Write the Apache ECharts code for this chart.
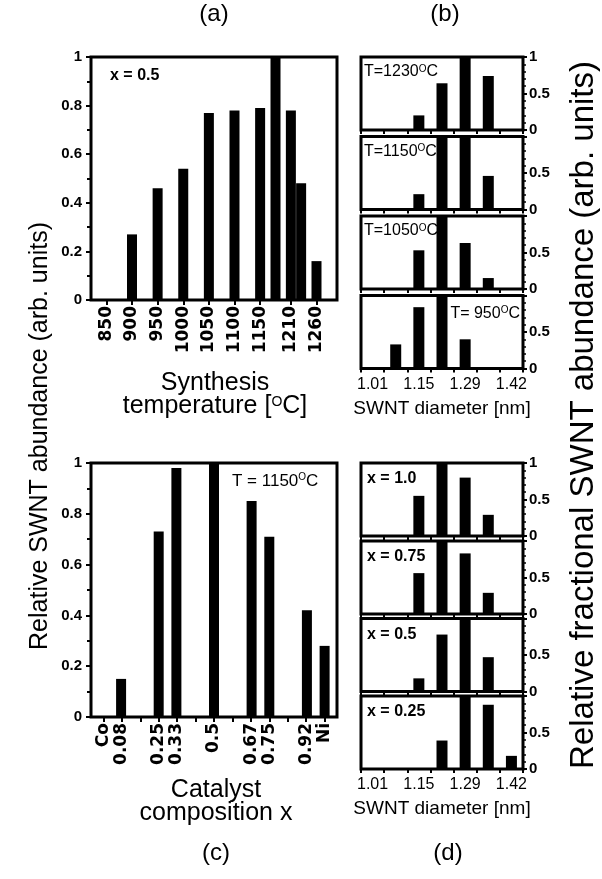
<!DOCTYPE html>
<html>
<head>
<meta charset="utf-8">
<script src="https://cdn.jsdelivr.net/npm/echarts@6/dist/echarts.min.js"></script>
<style>
html, body { margin: 0; padding: 0; background: #fff; }
#chart { width: 602px; height: 879px; }
</style>
</head>
<body>
<div id="chart"></div>
<script>
// (a) abundance vs synthesis temperature, x = 0.5
const tempTicks = [850, 900, 950, 1000, 1050, 1100, 1150, 1210, 1260];
const temps = [900, 950, 1000, 1050, 1100, 1150, 1180, 1210, 1230, 1260];
const tempAbundance = [0.27, 0.46, 0.54, 0.77, 0.78, 0.79, 1.0, 0.78, 0.48, 0.16];

// (c) abundance vs catalyst composition, T = 1150
const compTicks = [0, 0.08, 0.25, 0.33, 0.5, 0.67, 0.75, 0.92, 1];
const compTickNames = ['Co', '0.08', '0.25', '0.33', '0.5', '0.67', '0.75', '0.92', 'Ni'];
const compX = [0.08, 0.25, 0.33, 0.5, 0.67, 0.75, 0.92, 1];
const compAbundance = [0.15, 0.73, 0.98, 1.0, 0.85, 0.71, 0.42, 0.28];

// (b), (d) diameter bins
const diameters = ['1.01', '1.08', '1.15', '1.22', '1.29', '1.36', '1.42'];
const diamLabels = ['1.01', '1.15', '1.29', '1.42'];

// (b) fractional abundance per temperature
const tempPanels = ['1230', '1150', '1050', ' 950'];
const frac1230 = [0, 0, 0.20, 0.64, 1.0, 0.74, 0];
const frac1150 = [0, 0, 0.21, 1.0, 1.0, 0.46, 0];
const frac1050 = [0, 0, 0.53, 1.0, 0.63, 0.15, 0];
const frac950 = [0, 0.33, 0.84, 1.0, 0.40, 0, 0];

// (d) fractional abundance per composition
const compPanels = ['x = 1.0', 'x = 0.75', 'x = 0.5', 'x = 0.25'];
const fracX100 = [0, 0, 0.55, 1.0, 0.80, 0.29, 0];
const fracX075 = [0, 0, 0.56, 1.0, 0.83, 0.29, 0];
const fracX050 = [0, 0, 0.18, 0.78, 1.0, 0.47, 0];
const fracX025 = [0, 0, 0, 0.39, 1.0, 0.88, 0.18];

const FONT = "'Liberation Sans', Arial, sans-serif";
const chart = echarts.init(document.getElementById('chart'));

const grids = [], xAxes = [], yAxes = [], series = [], graphics = [];
const tickStyle = { color: '#000', width: 2 };

function box(left, top, width, height) {
    grids.push({
        left: left, top: top, width: width, height: height,
        show: true, borderColor: '#000', borderWidth: 3, backgroundColor: 'transparent'
    });
    return grids.length - 1;
}

// big panels (a) and (c)
function bigPanel(top, height, xmin, xmax, ticks, labels, tickNames, xs, ys) {
    const g = box(91, top, 246, height);
    xAxes.push({
        type: 'value', gridIndex: g, min: xmin, max: xmax,
        splitLine: { show: false },
        axisLine: { show: false, onZero: false },
        axisTick: { show: true, customValues: ticks, length: 5, lineStyle: tickStyle },
        axisLabel: {
            customValues: labels, rotate: 90, margin: 6,
            fontFamily: 'DejaVu Sans', fontWeight: 'bold', fontSize: 17, color: '#000',
            formatter: v => tickNames ? tickNames[labels.indexOf(v)] : String(v)
        }
    });
    yAxes.push({
        type: 'value', gridIndex: g, min: 0, max: 1, interval: 0.2,
        splitLine: { show: false },
        axisLine: { show: false, onZero: false },
        axisTick: { show: true, length: 5, lineStyle: tickStyle },
        minorTick: { show: true, splitNumber: 2, length: 4, lineStyle: tickStyle },
        axisLabel: { margin: 9, fontFamily: FONT, fontWeight: 'bold', fontSize: 15, color: '#000' }
    });
    series.push({
        type: 'bar', xAxisIndex: g, yAxisIndex: g, barWidth: 10,
        itemStyle: { color: '#000' },
        data: xs.map((x, i) => [x, ys[i]])
    });
}

bigPanel(57, 243, 820, 1300, tempTicks, tempTicks, null, temps, tempAbundance);
bigPanel(463, 254, -0.056, 1.056,
    [0, 1, 2, 3, 4, 5, 6, 7, 8, 9, 10, 11, 12].map(k => k / 12),
    compTicks, compTickNames, compX, compAbundance);

// small stacked panels (b) and (d)
function smallPanel(top, values, first, last) {
    const g = box(361, top, 162, 73);
    xAxes.push({
        type: 'category', gridIndex: g, data: diameters,
        axisLine: { show: false, onZero: false },
        axisTick: { show: true, length: 4, lineStyle: tickStyle },
        axisLabel: {
            show: last, interval: 0, margin: 8,
            fontFamily: FONT, fontSize: 16, color: '#000',
            formatter: v => diamLabels.indexOf(v) >= 0 ? v : ''
        }
    });
    yAxes.push({
        type: 'value', gridIndex: g, position: 'right', min: 0, max: 1, interval: 0.5,
        splitLine: { show: false },
        axisLine: { show: false, onZero: false },
        axisTick: { show: true, length: 4, lineStyle: tickStyle },
        minorTick: { show: true, splitNumber: 5, length: 3, lineStyle: { color: '#000', width: 1.5 } },
        axisLabel: {
            margin: 6, fontFamily: FONT, fontWeight: 'bold', fontSize: 15, color: '#000',
            formatter: v => (v === 1 && !first) ? '' : String(v)
        }
    });
    series.push({
        type: 'bar', xAxisIndex: g, yAxisIndex: g, barWidth: 11,
        itemStyle: { color: '#000' },
        data: values
    });
}

const bTops = [57, 136.5, 216, 295.5];
[frac1230, frac1150, frac1050, frac950].forEach((vals, i) => smallPanel(bTops[i], vals, i === 0, i === 3));
const dTops = [463, 541, 618.5, 696];
[fracX100, fracX075, fracX050, fracX025].forEach((vals, i) => smallPanel(dTops[i], vals, i === 0, i === 3));

const sup = { o: { fontSize: 10, verticalAlign: 'top', fontFamily: FONT } };
const supBig = { o: { fontSize: 14, verticalAlign: 'top', fontFamily: FONT } };

function txt(x, y, text, opts) {
    graphics.push(Object.assign({
        type: 'text', x: x, y: y,
        style: Object.assign({
            text: text, fill: '#000', font: '24px ' + FONT,
            textAlign: 'center', textVerticalAlign: 'middle', rich: sup
        }, opts.style || {})
    }, opts.el || {}));
}

// panel letters
txt(214, 14, '(a)', {});
txt(445, 14, '(b)', {});
txt(216, 853, '(c)', {});
txt(448, 853, '(d)', {});

// annotations
txt(110, 76, 'x = 0.5', { style: { font: 'bold 16px ' + FONT, textAlign: 'left' } });
txt(232, 481, 'T = 1150{o|O}C', { style: { font: '17px ' + FONT, textAlign: 'left' } });
tempPanels.forEach((t, i) => {
    if (i === 3) {
        txt(520, bTops[i] + 18, 'T=' + t + '{o|O}C', { style: { font: '16px ' + FONT, textAlign: 'right' } });
    } else {
        txt(364, bTops[i] + 15, 'T=' + t + '{o|O}C', { style: { font: '16px ' + FONT, textAlign: 'left' } });
    }
});
compPanels.forEach((t, i) => {
    txt(367, dTops[i] + 16, t, { style: { font: 'bold 16px ' + FONT, textAlign: 'left' } });
});

// axis captions
txt(215, 395, 'Synthesis\ntemperature [{o|O}C]', { style: { font: '25px ' + FONT, lineHeight: 23, rich: supBig } });
txt(216, 802, 'Catalyst\ncomposition x', { style: { font: '25px ' + FONT, lineHeight: 23 } });
txt(442, 409, 'SWNT diameter [nm]', { style: { font: '19px ' + FONT } });
txt(442, 809, 'SWNT diameter [nm]', { style: { font: '19px ' + FONT } });
txt(40, 436, 'Relative SWNT abundance (arb. units)', {
    style: { font: '25px ' + FONT }, el: { rotation: Math.PI / 2 }
});
txt(584, 415, 'Relative fractional SWNT abundance (arb. units)', {
    style: { font: '33px ' + FONT }, el: { rotation: Math.PI / 2 }
});

chart.setOption({
    animation: false,
    grid: grids,
    xAxis: xAxes,
    yAxis: yAxes,
    series: series,
    graphic: graphics
});
</script>
</body>
</html>
